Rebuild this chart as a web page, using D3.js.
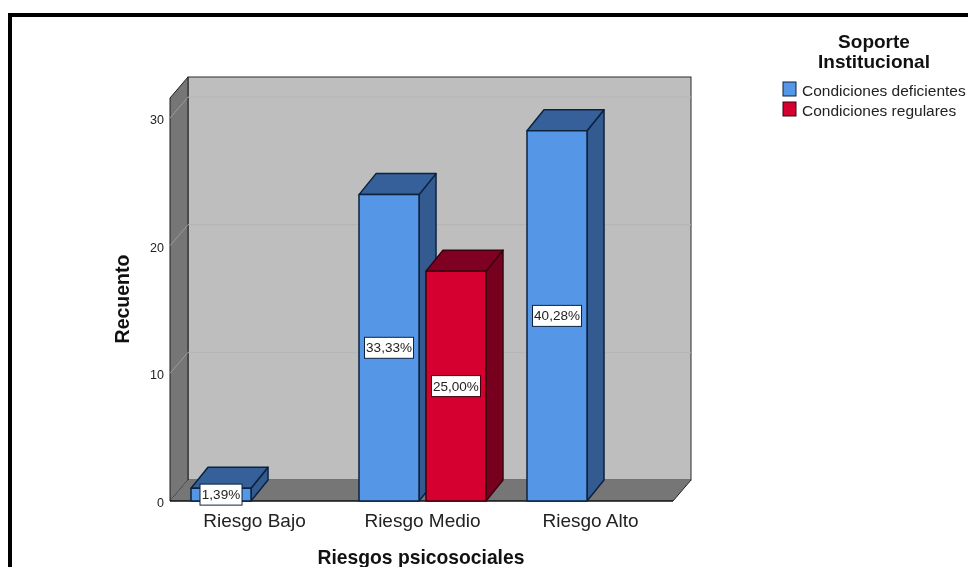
<!DOCTYPE html>
<html><head><meta charset="utf-8">
<script src="https://cdn.jsdelivr.net/npm/d3@7"></script>
<style>html,body{margin:0;padding:0;background:#fff}svg{display:block;filter:blur(0.35px)}text{font-family:"Liberation Sans",Arial,sans-serif}</style>
</head><body><svg id="c" width="968" height="567"></svg>
<script>
const categories = ["Riesgo Bajo","Riesgo Medio","Riesgo Alto"];
const seriesNames = ["Condiciones deficientes","Condiciones regulares"];
const deficientes = [1,24,29];
const regulares = [0,18,0];
const pctDeficientes = ["1,39%","33,33%","40,28%"];
const pctRegulares = ["","25,00%",""];
const yTicks = [0,10,20,30];
const fills = ["#5596e6","#d5002f"];
const tops = ["#36609a","#7f0020"];
const sides = ["#345b90","#77001f"];
const strokes = ["#0c2340","#3c0010"];

const svg = d3.select("#c");
const dx = 18, dy = -21, barDx = 17;
const x = d3.scaleBand().domain(categories).range([170.5,674.5]);
const groupW = 127;
const xs = d3.scaleBand().domain(seriesNames).range([0,groupW]).paddingInner(0.104);
const y = d3.scaleLinear().domain([0,30]).range([501,118]);
const y0 = y(0), yTop = 98, xL = 170, xR = 673;
const path = p => "M"+p.map(d=>d.join(",")).join("L")+"Z";

// frame
svg.append("rect").attr("x",10).attr("y",15).attr("width",960).attr("height",560)
  .attr("fill","#fff").attr("stroke","#000").attr("stroke-width",4);

// 3D chart box
svg.append("rect").attr("x",xL+dx).attr("y",yTop+dy).attr("width",xR-xL).attr("height",y0-yTop)
  .attr("fill","#bebebe").attr("stroke","#2b2b2b").attr("stroke-width",1);
svg.append("path").attr("d",path([[xL,yTop],[xL+dx,yTop+dy],[xL+dx,y0+dy],[xL,y0]]))
  .attr("fill","#767676").attr("stroke","#1c1c1c").attr("stroke-width",1);
svg.append("path").attr("d",path([[xL,y0],[xL+dx,y0+dy],[xR+dx,y0+dy],[xR,y0]]))
  .attr("fill","#767676").attr("stroke","none");
svg.append("line").attr("x1",xR).attr("y1",y0).attr("x2",xR+dx).attr("y2",y0+dy).attr("stroke","#222");
svg.append("line").attr("x1",xL).attr("y1",y0).attr("x2",xR).attr("y2",y0).attr("stroke","#111").attr("stroke-width",1.5);

// gridlines
yTicks.filter(t=>t>0).forEach(t=>{
  svg.append("line").attr("x1",xL+dx).attr("x2",xR+dx).attr("y1",y(t)+dy).attr("y2",y(t)+dy).attr("stroke","#b5b5b5");
  svg.append("line").attr("x1",xL).attr("x2",xL+dx).attr("y1",y(t)).attr("y2",y(t)+dy).attr("stroke","#9a9a9a");
});

// y tick labels
svg.selectAll(".yt").data(yTicks).join("text").attr("class","yt")
  .attr("x",164).attr("y",t=>y(t)+6).attr("text-anchor","end").attr("font-size",12.5).attr("fill","#222").text(d=>d);

// bars
function bar(s,v,c){
  if(!v) return;
  const cx = x(c)+x.bandwidth()/2-groupW/2+xs(seriesNames[s]);
  const w = xs.bandwidth(), t = y(v), i = s;
  const g = svg.append("g").attr("stroke",strokes[i]).attr("stroke-width",1.5).attr("stroke-linejoin","round");
  g.append("path").attr("d",path([[cx+w,t],[cx+w+barDx,t+dy],[cx+w+barDx,y0+dy],[cx+w,y0]])).attr("fill",sides[i]);
  g.append("path").attr("d",path([[cx,t],[cx+barDx,t+dy],[cx+w+barDx,t+dy],[cx+w,t]])).attr("fill",tops[i]);
  g.append("rect").attr("x",cx).attr("y",t).attr("width",w).attr("height",y0-t).attr("fill",fills[i]);
}
function label(s,v,c,pct){
  if(!v) return;
  const cx = x(c)+x.bandwidth()/2-groupW/2+xs(seriesNames[s])+xs.bandwidth()/2;
  const cy = (y(v)+y0)/2;
  const bw = pct.length>5?49:42, bh = 21;
  svg.append("rect").attr("x",cx-bw/2).attr("y",cy-bh/2).attr("width",bw).attr("height",bh)
    .attr("fill","#fff").attr("stroke",strokes[s]).attr("stroke-width",1);
  svg.append("text").attr("x",cx).attr("y",cy+4.5).attr("text-anchor","middle").attr("font-size",13.5).attr("fill","#222").text(pct);
}
[deficientes,regulares].forEach((vals,s)=>vals.forEach((v,i)=>bar(s,v,categories[i])));
[[deficientes,pctDeficientes],[regulares,pctRegulares]].forEach(([vals,p],s)=>vals.forEach((v,i)=>label(s,v,categories[i],p[i])));

// category labels
svg.selectAll(".cat").data(categories).join("text").attr("class","cat")
  .attr("x",c=>x(c)+x.bandwidth()/2).attr("y",526.5).attr("text-anchor","middle")
  .attr("font-size",19).attr("fill","#222").text(d=>d);

// axis titles
svg.append("text").attr("x",421).attr("y",563.5).attr("text-anchor","middle").attr("font-size",19.3).attr("font-weight","bold").attr("fill","#111").text("Riesgos psicosociales");
svg.append("text").attr("transform","translate(129,299) rotate(-90)").attr("text-anchor","middle").attr("font-size",19.5).attr("font-weight","bold").attr("fill","#111").text("Recuento");

// legend
const legendTitle = ["Soporte","Institucional"];
legendTitle.forEach((t,i)=>svg.append("text").attr("x",874).attr("y",48+i*20).attr("text-anchor","middle")
  .attr("font-size",19).attr("font-weight","bold").attr("fill","#111").text(t));
seriesNames.forEach((n,i)=>{
  svg.append("rect").attr("x",783).attr("y",82+i*20).attr("width",13).attr("height",14)
    .attr("fill",fills[i]).attr("stroke",strokes[i]);
  svg.append("text").attr("x",802).attr("y",96+i*20).attr("font-size",15.5).attr("fill","#222").text(n);
});
</script></body></html>
